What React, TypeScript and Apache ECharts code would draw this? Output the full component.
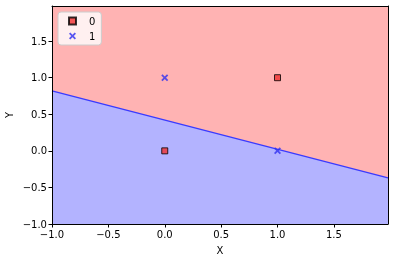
import React, { useEffect, useRef } from "react";
import * as echarts from "echarts";

const boundaryX = [-1, 1.98];
const boundaryY = [0.82, -0.37];
const class0X = [0, 1];
const class0Y = [0, 1];
const class1X = [0, 1];
const class1Y = [1, 0];
const tickValues = [-1, -0.5, 0, 0.5, 1, 1.5];

const X_PATH =
  "path://M0,1.8L1.8,0L5,3.2L8.2,0L10,1.8L6.8,5L10,8.2L8.2,10L5,6.8L1.8,10L0,8.2L3.2,5Z";

export default function App() {
  const ref = useRef<HTMLDivElement>(null);
  useEffect(() => {
    const chart = echarts.init(ref.current!, null, { renderer: "svg" });
    const fmt = (v: number) => (Math.abs(v * 2 - Math.round(v * 2)) < 1e-6 ? v.toFixed(1).replace("-", "\u2212") : "");
    const font = { fontFamily: "DejaVu Sans", fontSize: 10, color: "#000" };
    const axisCommon = {
      type: "value" as const,
      min: -1,
      max: 1.98,
      interval: 0.5,
      z: 10,
      splitLine: { show: false },
      axisLine: { show: true, onZero: false, lineStyle: { color: "#000", width: 1 } },
      axisTick: { show: true, length: 3.5, customValues: tickValues, lineStyle: { color: "#000", width: 1 } },
      axisLabel: { ...font, customValues: tickValues, formatter: fmt, margin: 5 },
      nameTextStyle: { ...font },
      nameMoveOverlap: false,
    };
    chart.setOption({
      animation: false,
      grid: {
        left: 52,
        right: 6,
        top: 6,
        bottom: 38,
        containLabel: false,
        outerBoundsMode: "none",
        show: true,
        backgroundColor: "#ffb3b3",
        borderWidth: 0,
      },
      xAxis: [
        { ...axisCommon, name: "X", nameLocation: "middle", nameGap: 21 },
        {
          type: "value",
          position: "top",
          min: -1,
          max: 1.98,
          z: 10,
          splitLine: { show: false },
          axisLine: { show: true, onZero: false, lineStyle: { color: "#000", width: 1 } },
          axisTick: { show: false },
          axisLabel: { show: false },
        },
      ],
      yAxis: [
        { ...axisCommon, name: "Y", nameLocation: "middle", nameGap: 38, nameRotate: 90 },
        {
          type: "value",
          position: "right",
          min: -1,
          max: 1.98,
          z: 10,
          splitLine: { show: false },
          axisLine: { show: true, onZero: false, lineStyle: { color: "#000", width: 1 } },
          axisTick: { show: false },
          axisLabel: { show: false },
        },
      ],
      legend: {
        orient: "vertical",
        left: 58,
        top: 12,
        padding: [3, 6, 3, 10],
        itemWidth: 7,
        itemHeight: 7,
        itemGap: 3,
        backgroundColor: "rgba(255,255,255,0.8)",
        borderColor: "#cccccc",
        borderWidth: 1,
        borderRadius: 3,
        textStyle: { ...font, lineHeight: 12, padding: [0, 0, 0, 8] },
        data: [
          { name: "0", icon: "rect" },
          { name: "1", icon: X_PATH },
        ],
      },
      series: [
        {
          type: "line",
          data: boundaryX.map((x, i) => [x, boundaryY[i]]),
          showSymbol: false,
          symbol: "none",
          lineStyle: { color: "#3a3aff", width: 1.3 },
          areaStyle: { color: "#b3b3ff", opacity: 1, origin: "start" },
          z: 2,
          silent: true,
        },
        {
          name: "0",
          type: "scatter",
          symbol: "rect",
          symbolSize: 6,
          data: class0X.map((x, i) => [x, class0Y[i]]),
          itemStyle: { color: "#f03030", borderColor: "#000", borderWidth: 1 },
          z: 5,
        },
        {
          name: "1",
          type: "scatter",
          symbol: X_PATH,
          symbolSize: 7,
          data: class1X.map((x, i) => [x, class1Y[i]]),
          itemStyle: { color: "#3030f0" },
          z: 5,
        },
      ],
    });
    return () => chart.dispose();
  }, []);
  return <div ref={ref} style={{ position: "fixed", left: 0, top: 0, width: 394, height: 262 }} />;
}
